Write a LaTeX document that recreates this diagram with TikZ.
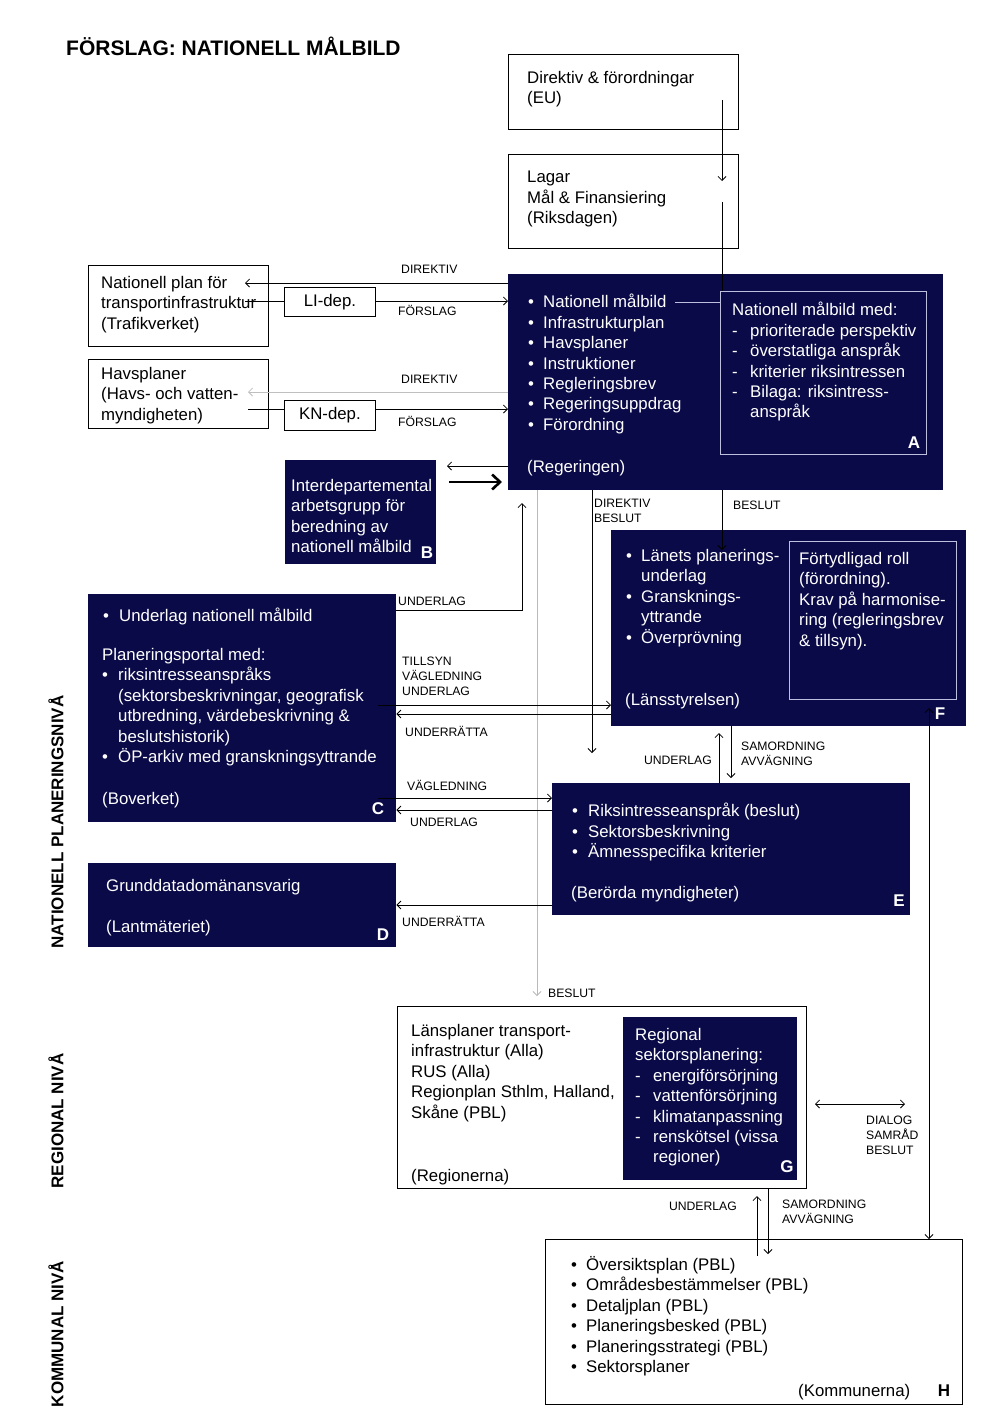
\documentclass[tikz,border=0pt]{standalone}
\usepackage{fontspec}
\setmainfont{Liberation Sans}
\usetikzlibrary{arrows.meta,calc}
\definecolor{navy}{RGB}{10,10,72}
\definecolor{lav}{RGB}{190,190,222}
\newcommand{\bu}{\makebox[15pt][l]{\textbullet}}
\newcommand{\bw}{\makebox[16pt][l]{\textbullet}}
\newcommand{\da}{\makebox[18pt][l]{-}}
\begin{document}
\begin{tikzpicture}[x=1pt,y=-1pt,
  dbox/.style={draw=none, fill=navy, inner sep=0, anchor=north west},
  wbox/.style={draw=black, line width=0.9pt, fill=white, inner sep=0, anchor=north west},
  tx/.style={inner sep=0, anchor=north west, align=left, yshift=-1.5pt, font=\fontsize{16.8}{20.4}\selectfont, execute at begin node=\strut},
  wtx/.style={tx, text=white},
  lbl/.style={inner sep=0, anchor=north west, align=left, font=\fontsize{12.2}{15.3}\selectfont, execute at begin node=\strut},
  letter/.style={inner sep=0, font=\fontsize{17}{20}\selectfont\bfseries},
  side/.style={inner sep=0, rotate=90, font=\fontsize{17}{20}\selectfont\bfseries},
  conn/.style={line width=0.8pt, -{Straight Barb[length=4pt,width=8pt]}},
  connb/.style={line width=0.8pt, {Straight Barb[length=4pt,width=8pt]}-{Straight Barb[length=4pt,width=8pt]}},
  plain/.style={line width=0.8pt}
]
\useasboundingbox (0,0) rectangle (992,1414);
\fill[white] (0,0) rectangle (992,1414);

% title and side labels
\node[inner sep=0, anchor=base west, font=\fontsize{21}{25}\selectfont\bfseries] (title) at (66,55) {FÖRSLAG: NATIONELL MÅLBILD};
\node[side] (s1) at (56,822) {NATIONELL PLANERINGSNIVÅ};
\node[side] (s2) at (56,1121) {REGIONAL NIVÅ};
\node[side] (s3) at (56,1334) {KOMMUNAL NIVÅ};

% boxes
\node[wbox, minimum width=230, minimum height=75] (EU) at (508,54) {};
\node[wbox, minimum width=230, minimum height=94] (RI) at (508,154) {};
\node[dbox, minimum width=435, minimum height=216] (A) at (508,274) {};
\node[draw=lav, line width=1pt, inner sep=0, anchor=north west, minimum width=206, minimum height=163] (Ai) at (720,291) {};
\node[wbox, minimum width=180, minimum height=81] (TR) at (88,265) {};
\node[wbox, minimum width=91, minimum height=29, font=\fontsize{16.8}{20.4}\selectfont] (LI) at (284,287) {LI-dep.};
\node[wbox, minimum width=180, minimum height=69] (HV) at (88,359) {};
\node[wbox, minimum width=91, minimum height=30, font=\fontsize{16.8}{20.4}\selectfont] (KN) at (284,400) {KN-dep.};
\node[dbox, minimum width=151, minimum height=104] (B) at (285,460) {};
\node[dbox, minimum width=308, minimum height=228] (C) at (88,594) {};
\node[dbox, minimum width=355, minimum height=196] (F) at (611,530) {};
\node[draw=lav, line width=1pt, inner sep=0, anchor=north west, minimum width=167, minimum height=158] (Fi) at (789,541) {};
\node[dbox, minimum width=358, minimum height=132] (E) at (552,783) {};
\node[dbox, minimum width=308, minimum height=84] (D) at (88,863) {};
\node[wbox, minimum width=409, minimum height=182] (R) at (397,1006) {};
\node[dbox, minimum width=174, minimum height=163] (G) at (623,1017) {};
\node[wbox, minimum width=417, minimum height=165] (H) at (545,1239) {};

% texts
\node[tx] (tEU) at (527,69.7) {Direktiv \& förordningar\\(EU)};
\node[tx] (tRI) at (527,169.7) {Lagar\\Mål \& Finansiering\\(Riksdagen)};
\node[wtx] (tA) at (528,292.7) {\bu Nationell målbild\\\bu Infrastrukturplan\\\bu Havsplaner\\\bu Instruktioner\\\bu Regleringsbrev\\\bu Regeringsuppdrag\\\bu Förordning};
\node[wtx] (tA2) at (527,456.7) {(Regeringen)};
\node[wtx] (tAi) at (732,300.7) {Nationell målbild med:\\\da prioriterade perspektiv\\\da överstatliga anspråk\\\da kriterier riksintressen\\\da Bilaga: riksintress-\\\hspace*{18pt}anspråk};
\node[tx] (tTR) at (101,274.7) {Nationell plan för\\transportinfrastruktur\\(Trafikverket)};
\node[tx] (tHV) at (101,365.7) {Havsplaner\\(Havs- och vatten-\\myndigheten)};
\node[wtx] (tB) at (291,477.7) {Interdepartemental\\arbetsgrupp för\\beredning av\\nationell målbild};
\node[wtx] (tC1) at (103,605.7) {\bw Underlag nationell målbild};
\node[wtx] (tC2) at (102,646.7) {Planeringsportal med:\\\bw riksintresseanspråks\\\hspace*{16pt}(sektorsbeskrivningar, geografisk\\\hspace*{16pt}utbredning, värdebeskrivning \&\\\hspace*{16pt}beslutshistorik)\\\bw ÖP-arkiv med granskningsyttrande};
\node[wtx] (tC3) at (102,788.7) {(Boverket)};
\node[wtx] (tF) at (626,547.7) {\bu Länets planerings-\\\hspace*{15pt}underlag\\\bu Gransknings-\\\hspace*{15pt}yttrande\\\bu Överprövning};
\node[wtx] (tF2) at (625,689.7) {(Länsstyrelsen)};
\node[wtx] (tFi) at (799,550.7) {Förtydligad roll\\(förordning).\\Krav på harmonise-\\ring (regleringsbrev\\\& tillsyn).};
\node[wtx] (tE) at (572,801.7) {\bw Riksintresseanspråk (beslut)\\\bw Sektorsbeskrivning\\\bw Ämnesspecifika kriterier};
\node[wtx] (tE2) at (571,882.7) {(Berörda myndigheter)};
\node[wtx] (tD) at (106,875.7) {Grunddatadomänansvarig};
\node[wtx] (tD2) at (106,916.7) {(Lantmäteriet)};
\node[tx] (tR) at (411,1022.7) {Länsplaner transport-\\infrastruktur (Alla)\\RUS (Alla)\\Regionplan Sthlm, Halland,\\Skåne (PBL)};
\node[tx] (tR2) at (411,1165.7) {(Regionerna)};
\node[wtx] (tG) at (635,1026.7) {Regional\\sektorsplanering:\\\da energiförsörjning\\\da vattenförsörjning\\\da klimatanpassning\\\da renskötsel (vissa\\\hspace*{18pt}regioner)};
\node[tx] (tH) at (571,1254.7) {\bu Översiktsplan (PBL)\\\bu Områdesbestämmelser (PBL)\\\bu Detaljplan (PBL)\\\bu Planeringsbesked (PBL)\\\bu Planeringsstrategi (PBL)\\\bu Sektorsplaner};
\node[tx] (tH2) at (798,1380.7) {(Kommunerna)};

% letters
\node[letter, text=white] (lA) at (914,443) {A};
\node[letter, text=white] (lB) at (427,553) {B};
\node[letter, text=white] (lC) at (378,809) {C};
\node[letter, text=white] (lD) at (383,935) {D};
\node[letter, text=white] (lE) at (899,901) {E};
\node[letter, text=white] (lF) at (940,714) {F};
\node[letter, text=white] (lG) at (787,1167) {G};
\node[letter] (lH) at (944,1391) {H};

% small labels
\node[lbl] (l1) at (401,262.5) {DIREKTIV};
\node[lbl] (l2) at (398,304.5) {FÖRSLAG};
\node[lbl] (l3) at (401,372.5) {DIREKTIV};
\node[lbl] (l4) at (398,415.5) {FÖRSLAG};
\node[lbl] (l5) at (398,594.5) {UNDERLAG};
\node[lbl] (l6) at (594,498.5) {DIREKTIV\\BESLUT};
\node[lbl] (l7) at (733,498.5) {BESLUT};
\node[lbl] (l8) at (402,656.5) {TILLSYN\\VÄGLEDNING\\UNDERLAG};
\node[lbl] (l9) at (405,725.5) {UNDERRÄTTA};
\node[lbl] (l10) at (407,779.5) {VÄGLEDNING};
\node[lbl] (l11) at (410,815.5) {UNDERLAG};
\node[lbl, anchor=north east] (l12) at (712,753.5) {UNDERLAG};
\node[lbl] (l13) at (741,741.5) {SAMORDNING\\AVVÄGNING};
\node[lbl] (l14) at (402,915.5) {UNDERRÄTTA};
\node[lbl] (l15) at (548,986.5) {BESLUT};
\node[lbl] (l16) at (866,1115.5) {DIALOG\\SAMRÅD\\BESLUT};
\node[lbl, anchor=north east] (l17) at (737,1199.5) {UNDERLAG};
\node[lbl] (l18) at (782,1199.5) {SAMORDNING\\AVVÄGNING};

% free-end coordinates
\coordinate (eu1) at (722,100);
\coordinate (ri1) at (722,181);
\coordinate (ri2) at (722,202);
\coordinate (tr1) at (245,283);
\coordinate (tr2) at (245,301);
\coordinate (hv1) at (248,392);
\coordinate (hv2) at (248,409);
\coordinate (b1) at (447,466);
\coordinate (b2) at (449,482);
\coordinate (b3) at (502,482);
\coordinate (cA) at (522,503);
\coordinate (gl) at (537,996);
\coordinate (db) at (592,753);
\coordinate (fb) at (722,550);
\coordinate (fh) at (929,708);
\coordinate (fe1) at (719,733);
\coordinate (fe2) at (731,778);
\coordinate (c1) at (378,705);
\coordinate (c2) at (378,798);
\coordinate (rd1) at (815,1104);
\coordinate (rd2) at (905,1104);
\coordinate (rh1) at (757,1256);
\coordinate (rh2) at (757,1196);
\coordinate (rh3) at (768,1254);
\coordinate (nm) at (675,302);

% connectors
\draw[conn] (eu1) -- (ri1);
\draw[plain] (ri2) -- (ri2 |- Ai.north);
\draw[line width=1pt, lav] (nm) -- (Ai.west |- nm);
\draw[conn] (A.west |- tr1) -- (tr1);
\draw[plain] (tr2) -- (LI.west |- tr2);
\draw[conn] (LI.east |- tr2) -- (A.west |- tr2);
\draw[conn, draw=gray!50] (A.west |- hv1) -- (hv1);
\draw[plain] (hv2) -- (KN.west |- hv2);
\draw[conn] (KN.east |- hv2) -- (A.west |- hv2);
\draw[conn] (A.west |- b1) -- (b1);
\draw[line width=2.6pt, -{Straight Barb[length=8pt,width=15pt]}] (b2) -- (b3);
\draw[conn] (C.east |- 0,610) -| (cA);
\draw[conn, draw=gray!55] (A.south -| gl) -- (gl);
\draw[conn] (A.south -| db) -- (db);
\draw[conn] (A.south -| fb) -- (fb);
\draw[connb] (fh) -- (H.north -| fh);
\draw[conn] (E.north -| fe1) -- (fe1);
\draw[conn] (F.south -| fe2) -- (fe2);
\draw[conn] (c1) -- (F.west |- c1);
\draw[conn] (F.west |- 0,714) -- (C.east |- 0,714);
\draw[conn] (c2) -- (E.west |- c2);
\draw[conn] (E.west |- 0,810) -- (C.east |- 0,810);
\draw[conn] (E.west |- 0,905) -- (D.east |- 0,905);
\draw[connb] (rd1) -- (rd2);
\draw[conn] (rh1) -- (rh2);
\draw[conn] (R.south -| rh3) -- (rh3);
\end{tikzpicture}
\end{document}
